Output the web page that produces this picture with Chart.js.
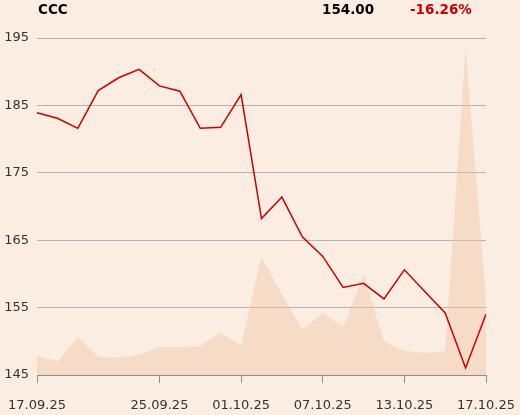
<!DOCTYPE html>
<html>
<head>
<meta charset="utf-8">
<script src="https://cdn.jsdelivr.net/npm/chart.js@4"></script>
<style>
  html, body { margin: 0; padding: 0; background: #fbede1; }
  #wrap { position: relative; width: 520px; height: 415px; }
  canvas { position: absolute; left: 0; top: 0; }
  .hd { position: absolute; top: 3px; font: bold 13.5px "DejaVu Sans", sans-serif; line-height: 1; white-space: nowrap; }
</style>
</head>
<body>
<div id="wrap">
  <canvas id="chart" width="520" height="415"></canvas>
  <span class="hd" style="left:38px;color:#000">CCC</span>
  <span class="hd" style="left:322px;color:#000">154.00</span>
  <span class="hd" style="left:410px;color:#cc0000">-16.26%</span>
</div>
<script>
const dates = ['17.09.25','18.09.25','19.09.25','22.09.25','23.09.25','24.09.25','25.09.25','26.09.25','29.09.25','30.09.25',
  '01.10.25','02.10.25','03.10.25','06.10.25','07.10.25','08.10.25','09.10.25','10.10.25','13.10.25','14.10.25',
  '15.10.25','16.10.25','17.10.25'];
const tickLabels = ['17.09.25','25.09.25','01.10.25','07.10.25','13.10.25','17.10.25'];
const prices = [183.9, 183.1, 181.6, 187.2, 189.1, 190.35, 187.9, 187.1, 181.6, 181.75,
  186.6, 168.2, 171.4, 165.5, 162.6, 158.0, 158.6, 156.3, 160.6, 157.4,
  154.2, 146.05, 154.0];
const volumes = [57, 39, 111, 54, 51, 59, 83, 83, 85, 126,
  89, 351, 239, 134, 183, 142, 295, 100, 71, 65,
  71, 970, 220];
const yTicks = [145, 155, 165, 175, 185, 195];

new Chart(document.getElementById('chart'), {
  type: 'line',
  data: {
    labels: dates,
    datasets: [
      { data: prices, yAxisID: 'y', borderColor: '#cc0000', borderWidth: 1.5, pointRadius: 0, tension: 0, fill: false, order: 0 },
      { data: volumes, yAxisID: 'v', borderWidth: 0, pointRadius: 0, tension: 0, fill: 'origin', backgroundColor: 'rgba(241,192,160,0.4)', order: 1 },
    ],
  },
  options: {
    responsive: false,
    animation: false,
    layout: { padding: { top: 38, right: 34, left: 0, bottom: 4 } },
    plugins: { legend: { display: false }, tooltip: { enabled: false } },
    scales: {
      x: {
        afterFit: s => { s.height = 36; s.paddingLeft = 0; s.paddingRight = 0; },
        ticks: {
          autoSkip: false, maxRotation: 0, padding: 15, color: '#333',
          font: { family: 'DejaVu Sans', size: 13 },
          callback: (v, i) => tickLabels.includes(dates[i]) ? dates[i] : '',
        },
        grid: {
          drawOnChartArea: false, drawTicks: true, tickLength: 8,
          color: ctx => (ctx.tick && tickLabels.includes(dates[ctx.index])) ? '#8c8c8c' : 'rgba(0,0,0,0)',
        },
        border: { display: true, color: '#8c8c8c' },
      },
      y: {
        min: 145, max: 195,
        afterBuildTicks: s => { s.ticks = yTicks.map(v => ({ value: v })); },
        afterFit: s => { s.width = 37; },
        ticks: { padding: 8, color: '#333', font: { family: 'DejaVu Sans', size: 13 } },
        grid: { color: '#b4b4b4', drawTicks: false },
        border: { display: false },
      },
      v: { display: false, min: 0, max: 1000 },
    },
  },
});
</script>
</body>
</html>
